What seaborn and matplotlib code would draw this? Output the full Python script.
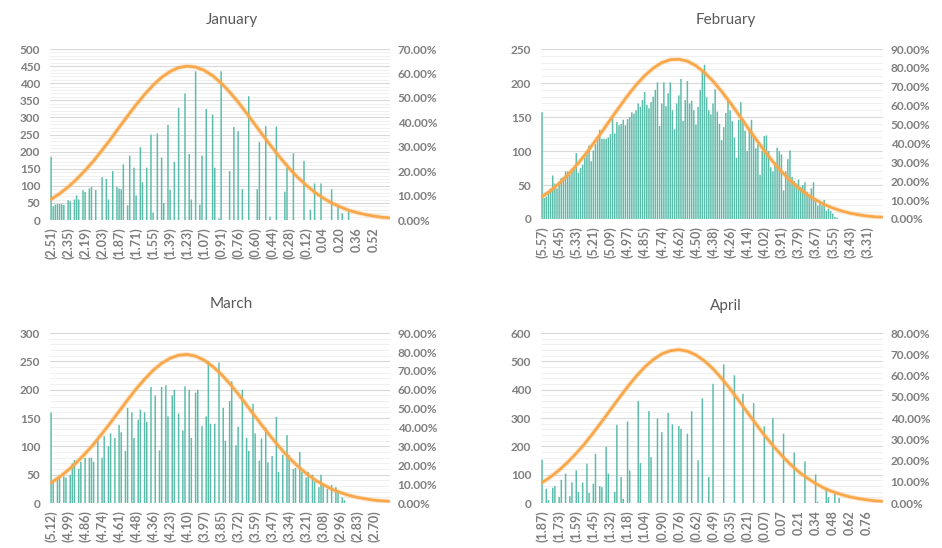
"""Monthly return distributions: binned counts with a fitted normal curve."""

import matplotlib
matplotlib.use("Agg")
import matplotlib.pyplot as plt
from matplotlib.ticker import MultipleLocator, PercentFormatter
import pandas as pd
import seaborn as sns

# counts per bin (160 bins per month)
jan_counts = [
    185, 40, 45, 47, 47, 46, 44, 0, 58, 55, 0, 60, 72, 60, 0, 87,
    82, 0, 92, 97, 0, 88, 0, 0, 125, 0, 120, 60, 0, 143, 0, 97,
    92, 90, 163, 0, 43, 188, 0, 153, 72, 0, 213, 110, 0, 153, 0, 250,
    22, 0, 253, 0, 183, 50, 0, 278, 88, 0, 170, 0, 328, 0, 0, 370,
    0, 193, 60, 0, 435, 0, 45, 188, 0, 325, 0, 0, 308, 153, 0, 5,
    435, 0, 0, 0, 143, 0, 272, 0, 260, 0, 90, 0, 0, 362, 0, 0,
    0, 90, 228, 0, 0, 275, 0, 10, 0, 0, 273, 0, 0, 0, 83, 153,
    0, 0, 195, 0, 0, 0, 0, 173, 0, 0, 30, 0, 107, 0, 0, 107,
    0, 0, 0, 0, 90, 0, 0, 40, 0, 20, 0, 0, 25, 0, 0, 0,
    0, 0, 0, 0, 0, 0, 0, 0, 0, 0, 0, 0, 0, 0, 0, 0,
]
feb_counts = [
    157, 31, 33, 38, 45, 64, 52, 45, 55, 60, 62, 70, 70, 65, 72, 75,
    97, 68, 75, 80, 90, 95, 108, 85, 101, 110, 118, 131, 118, 118, 118, 120,
    125, 148, 126, 143, 138, 140, 146, 138, 147, 150, 157, 155, 160, 170, 165, 175,
    187, 168, 163, 172, 180, 190, 201, 137, 170, 201, 166, 185, 201, 160, 132, 170,
    182, 206, 144, 175, 203, 170, 174, 160, 139, 165, 190, 218, 227, 179, 160, 154,
    170, 191, 158, 140, 116, 135, 156, 175, 160, 144, 120, 90, 146, 172, 147, 130,
    100, 131, 146, 120, 104, 110, 65, 100, 122, 123, 100, 76, 70, 83, 105, 100,
    95, 42, 70, 88, 101, 62, 56, 52, 58, 47, 50, 54, 40, 35, 45, 54,
    30, 20, 26, 20, 28, 12, 15, 12, 8, 3, 2, 0, 0, 0, 0, 0,
    0, 0, 0, 0, 0, 0, 0, 0, 0, 0, 0, 0, 0, 0, 0, 0,
]
mar_counts = [
    160, 38, 0, 42, 45, 0, 47, 45, 0, 50, 70, 76, 0, 60, 73, 0,
    80, 0, 80, 80, 73, 0, 110, 0, 80, 118, 0, 100, 123, 0, 115, 0,
    138, 125, 0, 92, 168, 0, 160, 115, 0, 147, 165, 0, 160, 143, 0, 205,
    0, 190, 0, 93, 205, 0, 208, 153, 0, 190, 200, 0, 158, 0, 128, 206,
    0, 200, 115, 0, 195, 200, 0, 136, 0, 153, 250, 140, 0, 140, 0, 248,
    0, 168, 110, 0, 180, 215, 0, 102, 135, 0, 200, 0, 115, 92, 0, 175,
    123, 0, 75, 114, 0, 133, 72, 0, 83, 0, 152, 55, 0, 85, 0, 120,
    85, 0, 60, 62, 0, 90, 55, 0, 45, 55, 0, 50, 38, 0, 28, 50,
    30, 0, 25, 0, 32, 0, 28, 20, 0, 10, 5, 0, 0, 0, 0, 0,
    0, 0, 0, 0, 0, 0, 0, 0, 0, 0, 0, 0, 0, 0, 0, 0,
]
apr_counts = [
    153, 0, 50, 10, 0, 54, 60, 0, 21, 82, 0, 104, 0, 24, 73, 0,
    115, 39, 0, 72, 0, 139, 36, 0, 68, 174, 0, 60, 56, 0, 198, 104,
    0, 0, 39, 276, 0, 92, 15, 0, 288, 115, 0, 0, 0, 360, 141, 0,
    0, 0, 325, 162, 0, 0, 298, 0, 250, 0, 0, 318, 0, 278, 0, 0,
    272, 262, 0, 0, 245, 0, 324, 0, 0, 151, 0, 370, 0, 0, 92, 0,
    421, 0, 0, 0, 0, 490, 0, 0, 0, 0, 451, 0, 0, 0, 386, 0,
    0, 0, 0, 353, 0, 0, 0, 0, 271, 0, 0, 0, 300, 0, 0, 0,
    0, 245, 0, 0, 0, 0, 178, 0, 0, 0, 0, 147, 0, 0, 0, 0,
    101, 4, 0, 0, 0, 51, 21, 0, 0, 33, 0, 18, 0, 0, 0, 0,
    0, 0, 0, 0, 0, 0, 0, 0, 0, 0, 0, 0, 0, 0, 0, 0,
]

# x tick labels, shown every 8th bin
jan_labels = ["(2.51)", "(2.35)", "(2.19)", "(2.03)", "(1.87)", "(1.71)", "(1.55)",
              "(1.39)", "(1.23)", "(1.07)", "(0.91)", "(0.76)", "(0.60)", "(0.44)",
              "(0.28)", "(0.12)", "0.04", "0.20", "0.36", "0.52"]
feb_labels = ["(5.57)", "(5.45)", "(5.33)", "(5.21)", "(5.09)", "(4.97)", "(4.85)",
              "(4.74)", "(4.62)", "(4.50)", "(4.38)", "(4.26)", "(4.14)", "(4.02)",
              "(3.91)", "(3.79)", "(3.67)", "(3.55)", "(3.43)", "(3.31)"]
mar_labels = ["(5.12)", "(4.99)", "(4.86)", "(4.74)", "(4.61)", "(4.48)", "(4.36)",
              "(4.23)", "(4.10)", "(3.97)", "(3.85)", "(3.72)", "(3.59)", "(3.47)",
              "(3.34)", "(3.21)", "(3.08)", "(2.96)", "(2.83)", "(2.70)"]
apr_labels = ["(1.87)", "(1.73)", "(1.59)", "(1.45)", "(1.32)", "(1.18)", "(1.04)",
              "(0.90)", "(0.76)", "(0.62)", "(0.49)", "(0.35)", "(0.21)", "(0.07)",
              "0.07", "0.21", "0.34", "0.48", "0.62", "0.76"]

# normal curve (secondary axis, %) read every 4th bin plus the last one
curve_bins = list(range(0, 160, 4)) + [159]
jan_curve = [8.5, 10.8, 13.5, 16.7, 20.3, 24.2, 28.6, 33.1, 37.9, 42.6, 47.2,
             51.4, 55.2, 58.4, 60.8, 62.4, 63.0, 62.6, 61.3, 59.1, 56.1, 52.4,
             48.3, 43.7, 39.0, 34.3, 29.7, 25.3, 21.2, 17.5, 14.3, 11.4, 9.0,
             7.0, 5.4, 4.0, 3.0, 2.2, 1.6, 1.1, 0.9]
feb_curve = [11.8, 15.0, 18.8, 23.3, 28.3, 33.8, 39.9, 46.2, 52.7, 59.1, 65.3,
             71.0, 75.9, 79.9, 82.8, 84.4, 84.6, 83.6, 81.2, 77.6, 73.0, 67.6,
             61.6, 55.3, 48.8, 42.4, 36.2, 30.4, 25.2, 20.5, 16.5, 13.0, 10.1,
             7.7, 5.8, 4.3, 3.1, 2.2, 1.6, 1.1, 1.0]
mar_curve = [10.8, 13.8, 17.4, 21.5, 26.1, 31.2, 36.8, 42.6, 48.6, 54.6, 60.4,
             65.6, 70.3, 74.0, 76.7, 78.3, 78.7, 77.8, 75.7, 72.4, 68.3, 63.3,
             57.8, 51.9, 45.9, 40.0, 34.3, 28.9, 23.9, 19.6, 15.7, 12.4, 9.7,
             7.4, 5.6, 4.1, 3.0, 2.2, 1.5, 1.1, 0.9]
apr_curve = [9.6, 12.3, 15.5, 19.2, 23.4, 28.0, 33.1, 38.4, 43.9, 49.4, 54.7,
             59.6, 64.0, 67.5, 70.2, 71.7, 72.2, 71.5, 69.7, 66.9, 63.2, 58.7,
             53.7, 48.3, 42.8, 37.3, 32.0, 27.1, 22.5, 18.4, 14.8, 11.8, 9.2,
             7.0, 5.3, 4.0, 2.9, 2.1, 1.5, 1.0, 0.8]

BAR = "#5cbcab"
CURVE = "#f8a84a"
GREY = "#7f7f7f"

panels = [
    ("January", jan_counts, jan_labels, jan_curve, 500, 50, 0.70,
     [0.0531, 0.5985, 0.361, 0.312], (0.246, 0.963)),
    ("February", feb_counts, feb_labels, feb_curve, 250, 50, 0.90,
     [0.5743, 0.6004, 0.363, 0.310], (0.770, 0.963)),
    ("March", mar_counts, mar_labels, mar_curve, 300, 50, 0.90,
     [0.0531, 0.0821, 0.361, 0.310], (0.245, 0.445)),
    ("April", apr_counts, apr_labels, apr_curve, 600, 100, 0.80,
     [0.5743, 0.0821, 0.363, 0.310], (0.770, 0.442)),
]

sns.set_theme(style="white")
plt.rcParams["font.family"] = ["Lato", "DejaVu Sans"]
plt.rcParams["font.weight"] = "bold"

fig = plt.figure(figsize=(9.42, 5.48), dpi=100)

for title, counts, labels, curve, ymax, ystep, pmax, rect, title_xy in panels:
    ax = fig.add_axes(rect)
    df = pd.DataFrame({"bin": range(len(counts)), "count": counts})
    sns.barplot(data=df, x="bin", y="count", color=BAR, saturation=1,
                width=0.7, errorbar=None, linewidth=0, edgecolor="none",
                snap=False, ax=ax)

    ax.set_ylim(0, ymax)
    ax.yaxis.set_major_locator(MultipleLocator(ystep))
    ax.yaxis.set_minor_locator(MultipleLocator(ystep / 5))
    ax.grid(axis="y", which="major", color="#d9d9d9", lw=0.8)
    ax.grid(axis="y", which="minor", color="#eeeeee", lw=0.6)
    ax.set_axisbelow(True)
    ax.set_xticks(range(0, len(counts), 8))
    ax.set_xticklabels(labels, rotation=90, fontsize=9, color=GREY)
    ax.tick_params(axis="x", length=0, pad=5)
    ax.tick_params(axis="y", which="both", length=0, pad=7, labelsize=8.5,
                   labelcolor=GREY)
    ax.set_xlabel("")
    ax.set_ylabel("")
    sns.despine(ax=ax, left=True, bottom=True)

    # fitted normal curve on the secondary axis
    ax2 = ax.twinx()
    pct = [v / 100 for v in curve]
    sns.lineplot(x=curve_bins, y=pct, ax=ax2, color=CURVE, lw=3.6, alpha=0.25)
    sns.lineplot(x=curve_bins, y=pct, ax=ax2, color=CURVE, lw=2.0)
    ax2.set_ylim(0, pmax)
    ax2.yaxis.set_major_locator(MultipleLocator(0.1))
    ax2.yaxis.set_major_formatter(PercentFormatter(1.0, decimals=2))
    ax2.grid(False)
    ax2.tick_params(axis="y", length=0, pad=5.5, labelsize=8.5, labelcolor=GREY)
    for side in ["top", "right", "left", "bottom"]:
        ax2.spines[side].set_visible(False)
    ax.set_xlim(-0.5, len(counts) - 0.5)

    fig.text(title_xy[0], title_xy[1], title, ha="center", va="center",
             fontsize=11, fontweight="normal", color="#595959")

plt.savefig("out.png", dpi=100)
plt.close()
